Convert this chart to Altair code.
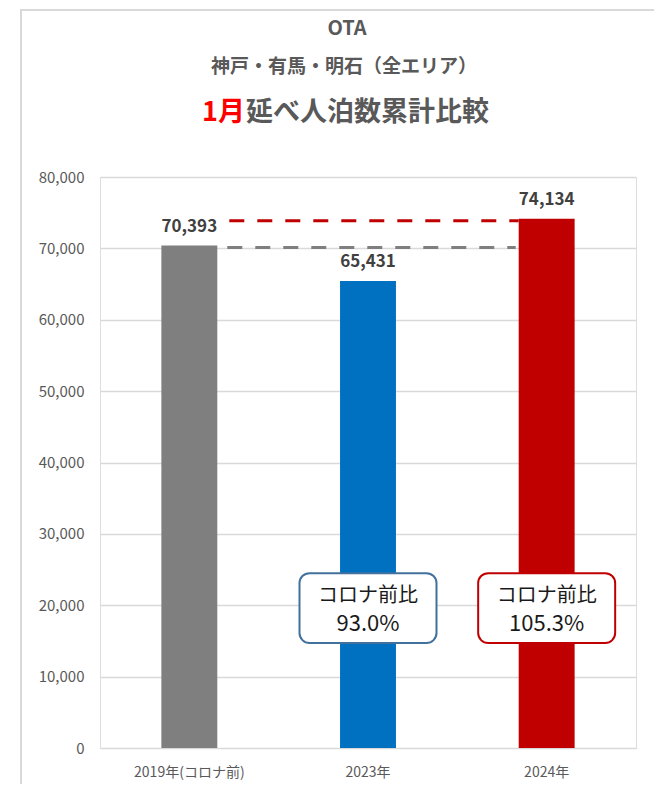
import altair as alt
import pandas as pd

categories = ["2019年(コロナ前)", "2023年", "2024年"]
values = [70393, 65431, 74134]
bar_colors = ["#7F7F7F", "#0070C0", "#C00000"]

box_categories = ["2023年", "2024年"]
box_colors = ["#41719C", "#C00000"]
box_top = 24500
box_bottom = 14700

FONT = "Noto Sans CJK JP"

base_val = values[0]
bars_df = pd.DataFrame({
    "cat": categories,
    "value": values,
    "label": [f"{v:,}" for v in values],
})

box_df = pd.DataFrame({
    "cat": box_categories,
    "top": [box_top] * 2,
    "bottom": [box_bottom] * 2,
    "mid": [(box_top + box_bottom) / 2] * 2,
    "line1": ["コロナ前比"] * 2,
    "line2": [f"{values[categories.index(c)] / base_val * 100:.1f}%" for c in box_categories],
})

lines_df = pd.DataFrame({
    "cat": [categories[0], categories[0]],
    "to": [categories[2], categories[2]],
    "value": [values[2], values[0]],
    "kind": ["2024", "2019"],
})

xscale = alt.Scale(domain=categories, paddingInner=0.687, paddingOuter=0.3435)
yscale = alt.Scale(domain=[0, 80000], nice=False)


def X(field, **kw):
    return alt.X(field, scale=xscale, sort=categories, title=None, **kw)


def Y(field):
    return alt.Y(field, scale=yscale, title=None)


bars = alt.Chart(bars_df).mark_bar().encode(
    x=X("cat:N"),
    y=Y("value:Q"),
    color=alt.Color("cat:N", scale=alt.Scale(domain=categories, range=bar_colors), legend=None),
)

labels = alt.Chart(bars_df).mark_text(font=FONT, fontSize=17, fontWeight="bold", color="#404040",
                                       baseline="alphabetic", dy=-14).encode(
    x=X("cat:N"),
    y=Y("value:Q"),
    text="label:N",
)

red_line = alt.Chart(lines_df[lines_df["kind"] == "2024"]).mark_rule(
    color="#C00000", strokeWidth=3, strokeDash=[15, 13], xOffset=12, yOffset=2).encode(
    x=X("cat:N", bandPosition=1),
    x2=alt.X2("to:N", bandPosition=0),
    y=Y("value:Q"),
)
gray_line = alt.Chart(lines_df[lines_df["kind"] == "2019"]).mark_rule(
    color="#7F7F7F", strokeWidth=3, strokeDash=[15, 13], xOffset=10, x2Offset=-3, yOffset=2).encode(
    x=X("cat:N", bandPosition=1),
    x2=alt.X2("to:N", bandPosition=0),
    y=Y("value:Q"),
)

boxes = alt.Chart(box_df).mark_bar(width=137, fill="white", strokeWidth=2, cornerRadius=10).encode(
    x=X("cat:N"),
    y=Y("top:Q"),
    y2="bottom:Q",
    stroke=alt.Stroke("cat:N", scale=alt.Scale(domain=box_categories, range=box_colors), legend=None),
)

box_text1 = alt.Chart(box_df).mark_text(font=FONT, fontSize=20, color="#1A1A1A",
                                        baseline="middle", dy=-12).encode(
    x=X("cat:N"), y=Y("mid:Q"), text="line1:N")
box_text2 = alt.Chart(box_df).mark_text(font=FONT, fontSize=22, color="#1A1A1A",
                                        baseline="middle", dy=16).encode(
    x=X("cat:N"), y=Y("mid:Q"), text="line2:N")

one = alt.Data(values=[{}])
frame = alt.Chart(one).mark_rect(fillOpacity=0, stroke="#D9D9D9", strokeWidth=2).encode(
    x=alt.value(-79), x2=alt.value(556), y=alt.value(-167), y2=alt.value(640))

t1 = alt.Chart(one).mark_text(font=FONT, fontSize=20, fontWeight="bold", color="#595959",
                              baseline="middle", align="center").encode(
    x=alt.value(247), y=alt.value(-148), text=alt.value("OTA"))
t2 = alt.Chart(one).mark_text(font=FONT, fontSize=19, fontWeight="bold", color="#595959",
                              baseline="middle", align="center").encode(
    x=alt.value(244), y=alt.value(-110), text=alt.value("神戸・有馬・明石（全エリア）"))
t3a = alt.Chart(one).mark_text(font=FONT, fontSize=27, fontWeight="bold", color="#FF0000",
                               baseline="middle", align="right").encode(
    x=alt.value(145), y=alt.value(-64), text=alt.value("1月"))
t3b = alt.Chart(one).mark_text(font=FONT, fontSize=27, fontWeight="bold", color="#595959",
                               baseline="middle", align="left").encode(
    x=alt.value(146), y=alt.value(-64), text=alt.value("延べ人泊数累計比較"))

chart = alt.layer(frame, bars, gray_line, red_line, labels, boxes, box_text1, box_text2,
                  t1, t2, t3a, t3b).properties(
    width=536, height=571,
    background="white",
    autosize=alt.AutoSizeParams(type="none"),
    padding={"left": 92, "top": 169, "right": 18, "bottom": 36},
).configure_view(stroke=None).configure(
    numberFormat=",.0f",
).configure_axis(
    labelFont=FONT, labelColor="#595959", domain=False, ticks=False,
).configure_axisX(
    labelAngle=0, labelFontSize=14, labelPadding=17, grid=False,
).configure_axisY(
    labelFontSize=15, labelPadding=16, grid=True, gridColor="#D9D9D9", gridWidth=1.5, tickCount=8,
)

chart.save("out.html", embed_options={"renderer": "svg", "actions": False})
